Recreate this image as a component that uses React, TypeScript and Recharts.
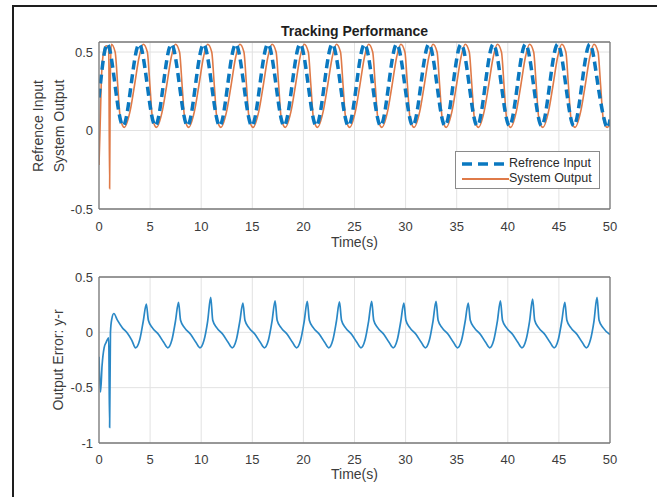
import React from 'react';
import { LineChart, Line, XAxis, YAxis, CartesianGrid, Legend } from 'recharts';

// ---------- data ----------
const X_TICKS = [0, 5, 10, 15, 20, 25, 30, 35, 40, 45, 50];
const Y1_TICKS = [-0.5, 0, 0.5];
const Y2_TICKS = [-1, -0.5, 0, 0.5];

const TITLE = 'Tracking Performance';
const X_LABEL = 'Time(s)';
const Y1_LABEL_1 = 'Refrence Input';
const Y1_LABEL_2 = 'System Output';
const Y2_LABEL = 'Output Error: y-r';
const SERIES_NAMES = ['Refrence Input', 'System Output'];

const REF_T = [
  0,
  0.78, 1.57, 2.36, 3.14,
  3.93, 4.72, 5.51, 6.29,
  7.08, 7.87, 8.66, 9.44,
  10.23, 11.02, 11.81, 12.59,
  13.38, 14.17, 14.96, 15.74,
  16.53, 17.32, 18.11, 18.89,
  19.68, 20.47, 21.26, 22.04,
  22.83, 23.62, 24.41, 25.19,
  25.98, 26.77, 27.56, 28.34,
  29.13, 29.92, 30.71, 31.49,
  32.28, 33.07, 33.86, 34.64,
  35.43, 36.22, 37.01, 37.79,
  38.58, 39.37, 40.16, 40.94,
  41.73, 42.52, 43.31, 44.09,
  44.88, 45.67, 46.46, 47.24,
  48.03, 48.82, 49.61, 50,
];
const REF_V = [
  0.21,
  0.55, 0.29, 0.03, 0.29,
  0.55, 0.29, 0.03, 0.29,
  0.55, 0.29, 0.03, 0.29,
  0.55, 0.29, 0.03, 0.29,
  0.55, 0.29, 0.03, 0.29,
  0.55, 0.29, 0.03, 0.29,
  0.55, 0.29, 0.03, 0.29,
  0.55, 0.29, 0.03, 0.29,
  0.55, 0.29, 0.03, 0.29,
  0.55, 0.29, 0.03, 0.29,
  0.55, 0.29, 0.03, 0.29,
  0.55, 0.29, 0.03, 0.29,
  0.55, 0.29, 0.03, 0.29,
  0.55, 0.29, 0.03, 0.29,
  0.55, 0.29, 0.03, 0.29,
  0.55, 0.29, 0.03, 0.07,
];

const OUT_T = [
  0, 0.1, 0.25, 0.45, 0.7, 0.95, 1.04, 1.1, 1.2, 1.58, 1.83, 2.08,
  2.48, 3.03, 3.48, 3.93, 4.33, 4.73, 4.98, 5.23,
  5.63, 6.18, 6.63, 7.08, 7.48, 7.88, 8.13, 8.38,
  8.78, 9.33, 9.78, 10.23, 10.63, 11.03, 11.28, 11.53,
  11.93, 12.48, 12.93, 13.38, 13.78, 14.18, 14.43, 14.68,
  15.08, 15.63, 16.08, 16.53, 16.93, 17.33, 17.58, 17.83,
  18.23, 18.78, 19.23, 19.68, 20.08, 20.48, 20.73, 20.98,
  21.38, 21.93, 22.38, 22.83, 23.23, 23.63, 23.88, 24.13,
  24.53, 25.08, 25.53, 25.98, 26.38, 26.78, 27.03, 27.28,
  27.68, 28.23, 28.68, 29.13, 29.53, 29.93, 30.18, 30.43,
  30.83, 31.38, 31.83, 32.28, 32.68, 33.08, 33.33, 33.58,
  33.98, 34.53, 34.98, 35.43, 35.83, 36.23, 36.48, 36.73,
  37.13, 37.68, 38.13, 38.58, 38.98, 39.38, 39.63, 39.88,
  40.28, 40.83, 41.28, 41.73, 42.13, 42.53, 42.78, 43.03,
  43.43, 43.98, 44.43, 44.88, 45.28, 45.68, 45.93, 46.18,
  46.58, 47.13, 47.58, 48.03, 48.43, 48.83, 49.08, 49.33,
  49.73, 50,
];
const OUT_V = [
  -0.22, 0.0, 0.35, 0.5, 0.54, 0.52, -0.37, 0.3, 0.55, 0.5, 0.29, 0.08,
  0.02, 0.12, 0.29, 0.47, 0.55, 0.5, 0.29, 0.08,
  0.02, 0.12, 0.29, 0.47, 0.55, 0.5, 0.29, 0.08,
  0.02, 0.12, 0.29, 0.47, 0.55, 0.5, 0.29, 0.08,
  0.02, 0.12, 0.29, 0.47, 0.55, 0.5, 0.29, 0.08,
  0.02, 0.12, 0.29, 0.47, 0.55, 0.5, 0.29, 0.08,
  0.02, 0.12, 0.29, 0.47, 0.55, 0.5, 0.29, 0.08,
  0.02, 0.12, 0.29, 0.47, 0.55, 0.5, 0.29, 0.08,
  0.02, 0.12, 0.29, 0.47, 0.55, 0.5, 0.29, 0.08,
  0.02, 0.12, 0.29, 0.47, 0.55, 0.5, 0.29, 0.08,
  0.02, 0.12, 0.29, 0.47, 0.55, 0.5, 0.29, 0.08,
  0.02, 0.12, 0.29, 0.47, 0.55, 0.5, 0.29, 0.08,
  0.02, 0.12, 0.29, 0.47, 0.55, 0.5, 0.29, 0.08,
  0.02, 0.12, 0.29, 0.47, 0.55, 0.5, 0.29, 0.08,
  0.02, 0.12, 0.29, 0.47, 0.55, 0.5, 0.29, 0.08,
  0.02, 0.12, 0.29, 0.47, 0.55, 0.5, 0.29, 0.08,
  0.02, 0.04,
];

const ERR_T = [
  0, 0.15, 0.3, 0.5, 0.7, 0.95, 1.04, 1.12, 1.25, 1.45, 1.8, 2.3, 2.8, 3.2, 3.58, 3.98, 4.33,
  4.63, 4.83, 5.23, 5.83, 6.33, 6.73, 7.13, 7.48,
  7.78, 7.98, 8.38, 8.98, 9.48, 9.88, 10.28, 10.63,
  10.93, 11.13, 11.53, 12.13, 12.63, 13.03, 13.43, 13.78,
  14.08, 14.28, 14.68, 15.28, 15.78, 16.18, 16.58, 16.93,
  17.23, 17.43, 17.83, 18.43, 18.93, 19.33, 19.73, 20.08,
  20.38, 20.58, 20.98, 21.58, 22.08, 22.48, 22.88, 23.23,
  23.53, 23.73, 24.13, 24.73, 25.23, 25.63, 26.03, 26.38,
  26.68, 26.88, 27.28, 27.88, 28.38, 28.78, 29.18, 29.53,
  29.83, 30.03, 30.43, 31.03, 31.53, 31.93, 32.33, 32.68,
  32.98, 33.18, 33.58, 34.18, 34.68, 35.08, 35.48, 35.83,
  36.13, 36.33, 36.73, 37.33, 37.83, 38.23, 38.63, 38.98,
  39.28, 39.48, 39.88, 40.48, 40.98, 41.38, 41.78, 42.13,
  42.43, 42.63, 43.03, 43.63, 44.13, 44.53, 44.93, 45.28,
  45.58, 45.78, 46.18, 46.78, 47.28, 47.68, 48.08, 48.43,
  48.73, 48.93, 49.33, 50,
];
const ERR_V = [
  -0.22, -0.54, -0.3, -0.14, -0.09, -0.05, -0.86, 0.0, 0.12, 0.17, 0.11, 0.04, -0.01, -0.07, -0.14, -0.07, 0.1,
  0.255, 0.11, 0.04, -0.02, -0.09, -0.14, -0.07, 0.1,
  0.27, 0.11, 0.04, -0.02, -0.09, -0.14, -0.07, 0.1,
  0.315, 0.11, 0.04, -0.02, -0.09, -0.14, -0.07, 0.1,
  0.265, 0.11, 0.04, -0.02, -0.09, -0.14, -0.07, 0.1,
  0.285, 0.11, 0.04, -0.02, -0.09, -0.14, -0.07, 0.1,
  0.28, 0.11, 0.04, -0.02, -0.09, -0.14, -0.07, 0.1,
  0.275, 0.11, 0.04, -0.02, -0.09, -0.14, -0.07, 0.1,
  0.28, 0.11, 0.04, -0.02, -0.09, -0.14, -0.07, 0.1,
  0.265, 0.11, 0.04, -0.02, -0.09, -0.14, -0.07, 0.1,
  0.28, 0.11, 0.04, -0.02, -0.09, -0.14, -0.07, 0.1,
  0.265, 0.11, 0.04, -0.02, -0.09, -0.14, -0.07, 0.1,
  0.285, 0.11, 0.04, -0.02, -0.09, -0.14, -0.07, 0.1,
  0.3, 0.11, 0.04, -0.02, -0.09, -0.14, -0.07, 0.1,
  0.27, 0.11, 0.04, -0.02, -0.09, -0.14, -0.07, 0.1,
  0.315, 0.11, 0.04, -0.02,
];

const refData = REF_T.map((t, i) => ({ t, v: REF_V[i] }));
const outData = OUT_T.map((t, i) => ({ t, v: OUT_V[i] }));
const errData = ERR_T.map((t, i) => ({ t, v: ERR_V[i] }));

// ---------- style ----------
const FONT = '"Liberation Sans", Arial, Helvetica, sans-serif';
const AXIS = '#7a7a7a';
const GRID = '#e2e2e2';
const TXT = '#3c3c3c';
const BLUE = '#0a78c0';
const ORANGE = '#df7a48';
const ERR_BLUE = '#2a88c6';

const tickStyle = { fontSize: 13, fill: TXT, fontFamily: FONT };

function LegendBox() {
  return (
    <div
      style={{
        width: 145,
        height: 38,
        border: '1.5px solid #8a8a8a',
        background: '#fff',
        boxSizing: 'border-box',
        fontFamily: FONT,
        fontSize: 12.5,
        color: '#2a2a2a',
        position: 'relative',
      }}
    >
      <svg width={52} height={36} style={{ position: 'absolute', left: 3, top: 0 }}>
        <line x1={3} y1={12} x2={50} y2={12} stroke={BLUE} strokeWidth={3.5} strokeDasharray="10 6" />
        <line x1={3} y1={27} x2={50} y2={27} stroke={ORANGE} strokeWidth={1.8} />
      </svg>
      <div style={{ position: 'absolute', left: 53, top: 4, lineHeight: '15px', whiteSpace: 'nowrap' }}>
        {SERIES_NAMES[0]}
      </div>
      <div style={{ position: 'absolute', left: 53, top: 19, lineHeight: '15px', whiteSpace: 'nowrap' }}>
        {SERIES_NAMES[1]}
      </div>
    </div>
  );
}

export default function App() {
  const xCommon = {
    type: 'number' as const,
    dataKey: 't',
    domain: [0, 50],
    ticks: X_TICKS,
    allowDataOverflow: true,
    height: 1,
    interval: 0 as const,
  };
  return (
    <div
      style={{
        position: 'absolute',
        left: 0,
        top: 0,
        width: 657,
        height: 497,
        background: '#fff',
        overflow: 'hidden',
        fontFamily: FONT,
      }}
    >
      {/* figure frame */}
      <div
        style={{
          position: 'absolute',
          left: 12,
          top: 5,
          width: 700,
          height: 560,
          borderLeft: '2px solid #1e1e1e',
          borderTop: '2px solid #1e1e1e',
        }}
      />

      {/* ---------- top subplot ---------- */}
      <LineChart
        width={657}
        height={250}
        margin={{ top: 42, right: 47, bottom: 40, left: 98 }}
        style={{ position: 'absolute', left: 0, top: 0 }}
      >
        <CartesianGrid xAxisId="b" yAxisId="l" stroke={GRID} strokeWidth={1} />
        <XAxis
          {...xCommon}
          xAxisId="b"
          orientation="bottom"
          tickLine={false}
          tickSize={6}
          tickMargin={7}
          tick={tickStyle}
          axisLine={{ stroke: AXIS, strokeWidth: 1.3 }}
        />
        <XAxis {...xCommon} xAxisId="b2" orientation="bottom" mirror tick={false} tickSize={4} tickLine={{ stroke: AXIS }} axisLine={false} />
        <XAxis {...xCommon} xAxisId="t" orientation="top" mirror tick={false} tickSize={4} tickLine={{ stroke: AXIS }} axisLine={{ stroke: AXIS, strokeWidth: 1.3 }} />
        <YAxis
          yAxisId="l"
          type="number"
          domain={[-0.5, 0.564]}
          ticks={Y1_TICKS}
          allowDataOverflow
          width={1}
          tickLine={false}
          tickSize={6}
          tickMargin={0}
          tick={tickStyle}
          axisLine={{ stroke: AXIS, strokeWidth: 1.3 }}
          interval={0}
        />
        <YAxis yAxisId="l2" type="number" domain={[-0.5, 0.564]} ticks={Y1_TICKS} allowDataOverflow width={1} mirror tick={false} tickSize={4} tickLine={{ stroke: AXIS }} axisLine={false} />
        <YAxis yAxisId="r" orientation="right" type="number" domain={[-0.5, 0.564]} ticks={Y1_TICKS} allowDataOverflow width={1} mirror tick={false} tickSize={4} tickLine={{ stroke: AXIS }} axisLine={{ stroke: AXIS, strokeWidth: 1.3 }} />
        <Line
          xAxisId="b"
          yAxisId="l"
          data={outData}
          dataKey="v"
          type="monotone"
          stroke={ORANGE}
          strokeWidth={1.6}
          dot={false}
          isAnimationActive={false}
        />
        <Line
          xAxisId="b"
          yAxisId="l"
          data={refData}
          dataKey="v"
          type="natural"
          stroke={BLUE}
          strokeWidth={3.5}
          strokeDasharray="9 5"
          dot={false}
          isAnimationActive={false}
        />
        <Legend
          layout="horizontal"
          verticalAlign="middle"
          align="center"
          content={() => <LegendBox />}
          wrapperStyle={{ left: 455, top: 151, width: 145, height: 38 }}
        />
      </LineChart>

      {/* ---------- bottom subplot ---------- */}
      <LineChart
        width={657}
        height={247}
        margin={{ top: 27, right: 47, bottom: 53, left: 98 }}
        style={{ position: 'absolute', left: 0, top: 250 }}
      >
        <CartesianGrid xAxisId="b" yAxisId="l" stroke={GRID} strokeWidth={1} />
        <XAxis
          {...xCommon}
          xAxisId="b"
          orientation="bottom"
          tickLine={false}
          tickSize={6}
          tickMargin={6}
          tick={tickStyle}
          axisLine={{ stroke: AXIS, strokeWidth: 1.3 }}
        />
        <XAxis {...xCommon} xAxisId="b2" orientation="bottom" mirror tick={false} tickSize={4} tickLine={{ stroke: AXIS }} axisLine={false} />
        <XAxis {...xCommon} xAxisId="t" orientation="top" mirror tick={false} tickSize={4} tickLine={{ stroke: AXIS }} axisLine={{ stroke: AXIS, strokeWidth: 1.3 }} />
        <YAxis
          yAxisId="l"
          type="number"
          domain={[-1, 0.5]}
          ticks={Y2_TICKS}
          allowDataOverflow
          width={1}
          tickLine={false}
          tickSize={6}
          tickMargin={0}
          tick={tickStyle}
          axisLine={{ stroke: AXIS, strokeWidth: 1.3 }}
          interval={0}
        />
        <YAxis yAxisId="l2" type="number" domain={[-1, 0.5]} ticks={Y2_TICKS} allowDataOverflow width={1} mirror tick={false} tickSize={4} tickLine={{ stroke: AXIS }} axisLine={false} />
        <YAxis yAxisId="r" orientation="right" type="number" domain={[-1, 0.5]} ticks={Y2_TICKS} allowDataOverflow width={1} mirror tick={false} tickSize={4} tickLine={{ stroke: AXIS }} axisLine={{ stroke: AXIS, strokeWidth: 1.3 }} />
        <Line
          xAxisId="b"
          yAxisId="l"
          data={errData}
          dataKey="v"
          type="monotone"
          stroke={ERR_BLUE}
          strokeWidth={1.7}
          dot={false}
          isAnimationActive={false}
        />
      </LineChart>

      {/* ---------- titles & axis labels ---------- */}
      <div
        style={{
          position: 'absolute',
          left: 100,
          width: 509,
          top: 23,
          textAlign: 'center',
          fontWeight: 'bold',
          fontSize: 14,
          lineHeight: '16px',
          color: '#1e1e1e',
        }}
      >
        {TITLE}
      </div>
      <div style={{ position: 'absolute', left: 100, width: 509, top: 234, textAlign: 'center', fontSize: 14, lineHeight: '16px', color: TXT }}>
        {X_LABEL}
      </div>
      <div style={{ position: 'absolute', left: 100, width: 509, top: 466, textAlign: 'center', fontSize: 14, lineHeight: '16px', color: TXT }}>
        {X_LABEL}
      </div>
      <div
        style={{
          position: 'absolute',
          left: 49,
          top: 126,
          transform: 'translate(-50%, -50%) rotate(-90deg)',
          textAlign: 'center',
          fontSize: 14,
          lineHeight: '21px',
          whiteSpace: 'nowrap',
          color: TXT,
        }}
      >
        <div>{Y1_LABEL_1}</div>
        <div>{Y1_LABEL_2}</div>
      </div>
      <div
        style={{
          position: 'absolute',
          left: 58,
          top: 360,
          transform: 'translate(-50%, -50%) rotate(-90deg)',
          fontSize: 14,
          lineHeight: '18px',
          whiteSpace: 'nowrap',
          color: TXT,
        }}
      >
        {Y2_LABEL}
      </div>
    </div>
  );
}
